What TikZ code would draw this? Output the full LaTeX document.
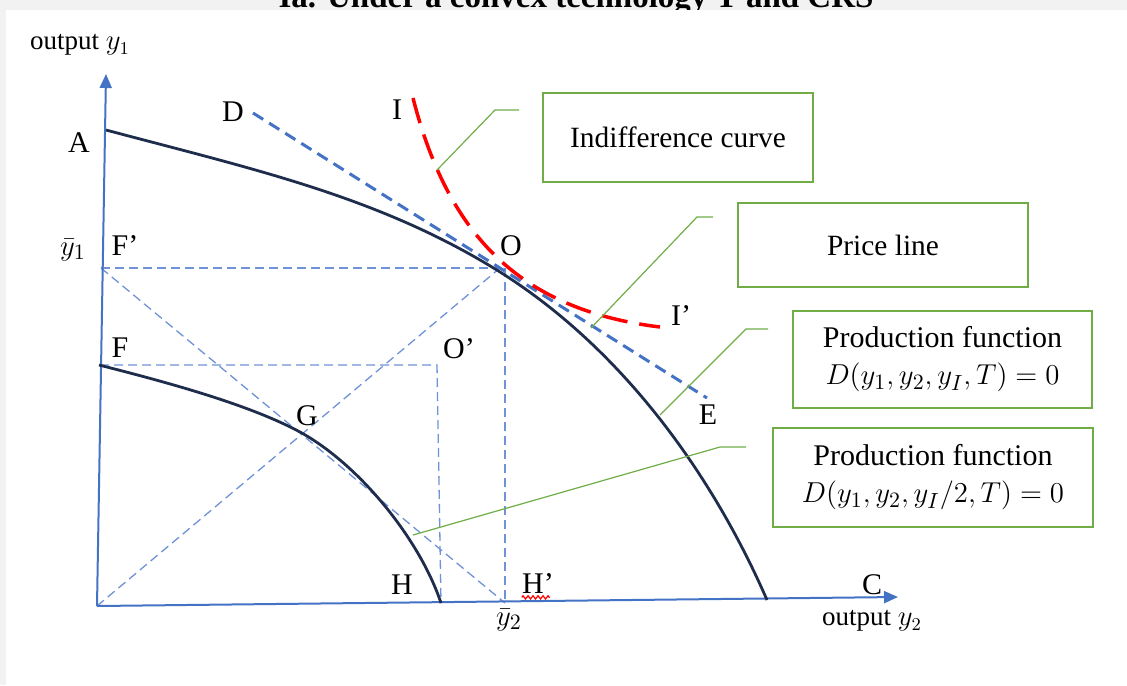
\documentclass[tikz,border=0pt]{standalone}
\usepackage{fontspec}
\setmainfont{Liberation Serif}
\usetikzlibrary{arrows.meta,decorations.pathmorphing}
\definecolor{axisblue}{HTML}{4472C4}
\definecolor{dashblue}{HTML}{6F93D6}
\definecolor{curvenavy}{HTML}{1F2D4D}
\definecolor{callgreen}{HTML}{70AD47}
\definecolor{bggray}{HTML}{F2F2F2}
\begin{document}
\begin{tikzpicture}[x=0.5pt,y=-0.5pt,
  axisline/.style={draw=axisblue,line width=1pt,-{Triangle[length=7pt,width=6pt]}},
  helper/.style={draw=dashblue,line width=0.65pt,dash pattern=on 4.5pt off 2.5pt},
  priceline/.style={draw=axisblue,line width=1.5pt,dash pattern=on 6pt off 3.5pt},
  indiff/.style={draw=red,line width=1.75pt,dash pattern=on 13pt off 6pt},
  frontier/.style={draw=curvenavy,line width=1.4pt},
  leader/.style={draw=callgreen,line width=0.6pt},
  callbox/.style={draw=callgreen,line width=0.8pt,inner sep=0pt,align=center},
  lbl/.style={font=\fontsize{15}{17}\selectfont,inner sep=0pt},
  axlbl/.style={font=\fontsize{13.5}{16}\selectfont,inner sep=0pt},
  boxtxt/.style={font=\fontsize{14.7}{17}\selectfont},
  prodtxt/.style={font=\fontsize{15}{18.5}\selectfont}
]
\useasboundingbox (0,0) rectangle (1127,685);
\fill[bggray] (0,0) rectangle (1127,685);
\begin{scope}
  \clip (0,0) rectangle (1127,10);
  \node[anchor=base,inner sep=0pt,font=\fontsize{16.5}{18}\selectfont\bfseries] (title) at (576,7) {Ia. Under a convex technology T and CRS};
\end{scope}
\fill[white] (6,10) rectangle (1127,685);

% key coordinates
\coordinate (orig) at (97,606);
\coordinate (ytop) at (106,74);
\coordinate (xend) at (898,597);
\coordinate (Fp) at (101,268);
\coordinate (Opt) at (500,268);
\coordinate (Obot) at (505,268);
\coordinate (y2b) at (505,603);
\coordinate (Fpt) at (100,365);
\coordinate (Op) at (437,365);
\coordinate (Hend) at (441,603);
\coordinate (Dpt) at (253,113);
\coordinate (Ept) at (707,398);

% helper dashed lines
\draw[helper] (Fp) -- (Opt);
\draw[helper] (Obot) -- (y2b);
\draw[helper] (Fp) -- (y2b);
\draw[helper] (orig) -- (Opt);
\draw[helper] (Fpt) -- (Op) -- (Hend);

% axes
\draw[axisline] (orig) -- (ytop);
\draw[axisline] (orig) -- (xend);

% production frontiers
\draw[frontier] (106,130) .. controls (256,170) and (380,197) .. (500,272)
                .. controls (630,354) and (717,485) .. (767,600);
\draw[frontier] (99,365) .. controls (170,383) and (250,405) .. (300,432)
                .. controls (360,465) and (420,540) .. (441,603);

% price line
\draw[priceline] (Dpt) -- (Ept);

% indifference curve
\draw[indiff] (413,98) .. controls (448,235) and (520,310) .. (660,327);

% callout boxes
\node[callbox,minimum width=135pt,minimum height=44.5pt,boxtxt] (bIC) at (678,137.5) {Indifference curve};
\node[callbox,minimum width=145pt,minimum height=42pt,boxtxt] (bPL) at (883,245) {Price line};
\node[callbox,minimum width=149.5pt,minimum height=48.5pt,prodtxt] (bPF1) at (942.5,359.5) {Production function\\ $D(y_1,y_2,y_I,T)=0$};
\node[callbox,minimum width=160pt,minimum height=49.5pt,prodtxt] (bPF2) at (933,477.5) {Production function\\ $D(y_1,y_2,y_I/2,T)=0$};

% leaders
\coordinate (tIC) at (519,110);   \coordinate (pIC) at (437,170);
\coordinate (tPL) at (713,217);   \coordinate (pPL) at (591,328);
\coordinate (tPF1) at (768,329);  \coordinate (pPF1) at (660,415);
\coordinate (tPF2) at (746,447);  \coordinate (pPF2) at (413,535);
\draw[leader] (tIC) -- ++(-24,0) -- (pIC);
\draw[leader] (tPL) -- ++(-16,0) -- (pPL);
\draw[leader] (tPF1) -- ++(-22,0) -- (pPF1);
\draw[leader] (tPF2) -- ++(-26,0) -- (pPF2);

% labels
\node[axlbl] (oy1) at (80,45) {output $y_1$};
\node[axlbl] (oy2) at (872,621) {output $y_2$};
\node[lbl] (lA) at (79,143) {A};
\node[lbl] (lD) at (233,112) {D};
\node[lbl] (lI) at (397,110) {I};
\node[lbl] (ly1) at (73,250) {$\bar{y}_1$};
\node[lbl] (lFp) at (125,246) {F’};
\node[lbl] (lO) at (511,246) {O};
\node[lbl] (lIp) at (681,316) {I’};
\node[lbl] (lF) at (120,348) {F};
\node[lbl] (lOp) at (459,349) {O’};
\node[lbl] (lG) at (307,416) {G};
\node[lbl] (lE) at (708,415) {E};
\node[lbl] (lH) at (402,585) {H};
\node[lbl] (lHp) at (538,584) {H’};
\node[lbl] (lC) at (872,585) {C};
\node[lbl] (ly2) at (509,620) {$\bar{y}_2$};
\draw[red,line width=0.6pt,decorate,decoration={zigzag,amplitude=0.8pt,segment length=2.5pt}] ([yshift=-1.5pt]lHp.south west) -- ([yshift=-1.5pt,xshift=-2pt]lHp.south east);
\end{tikzpicture}
\end{document}
